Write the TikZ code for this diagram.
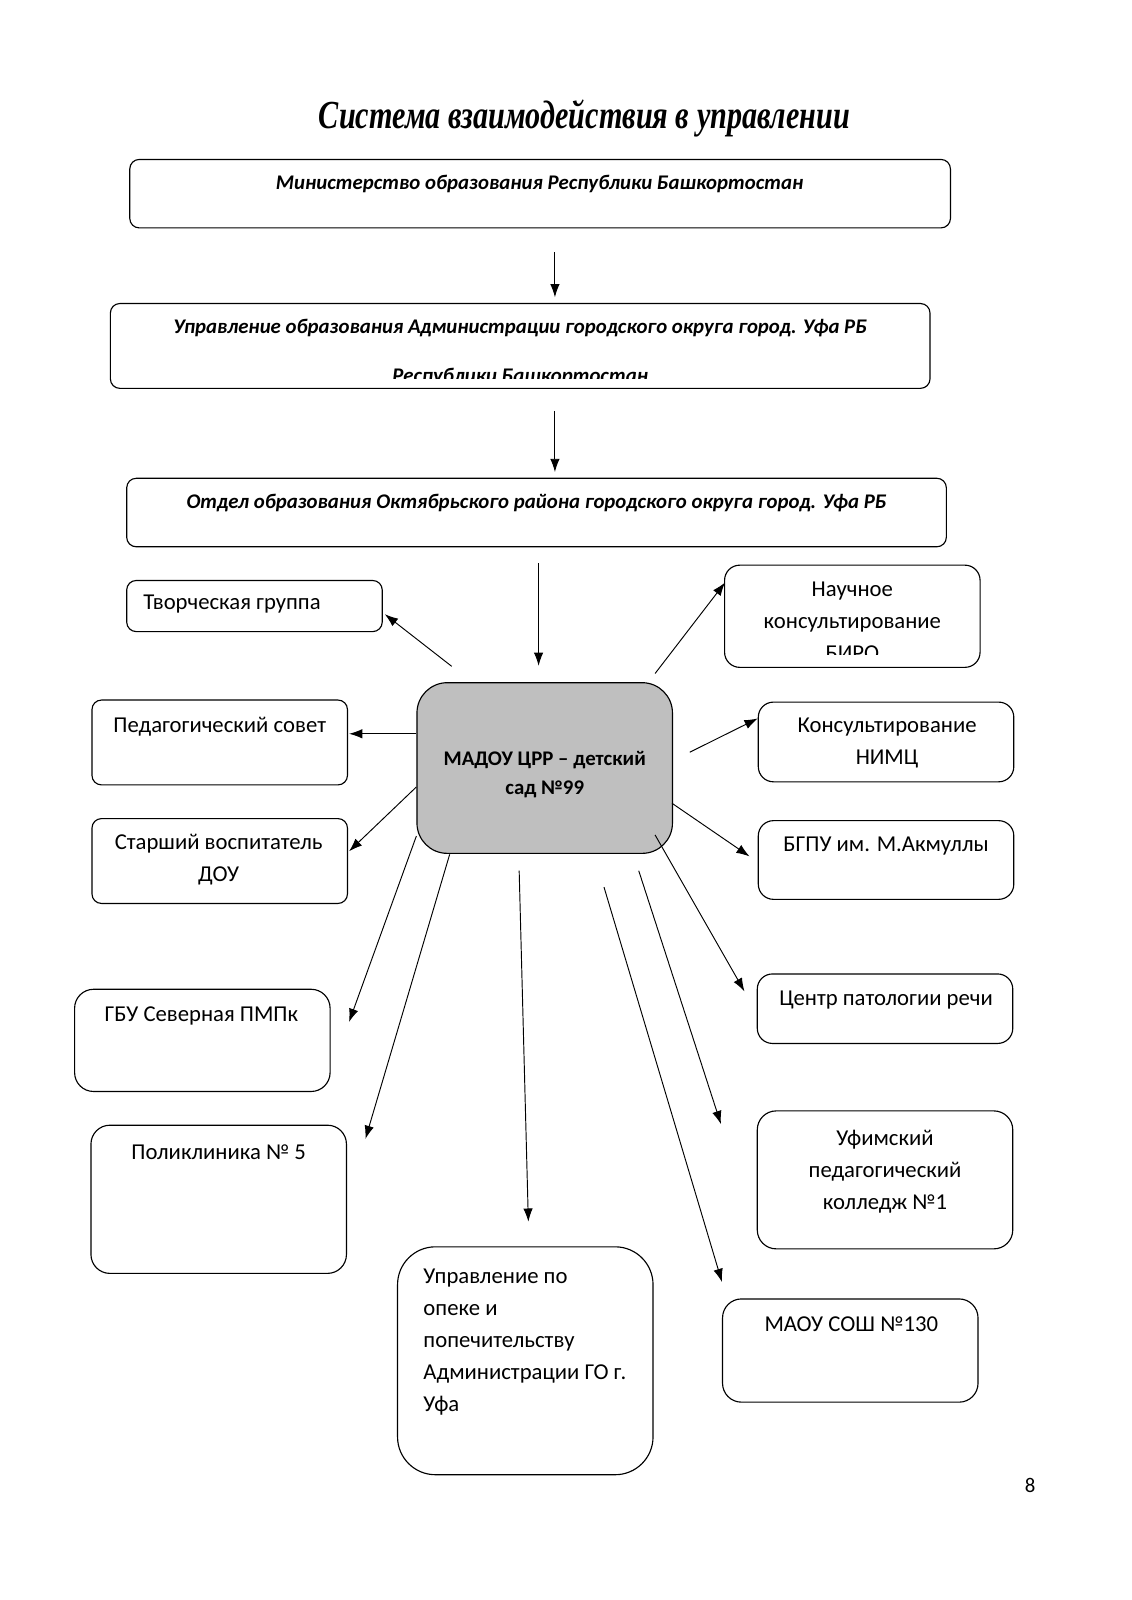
\documentclass[tikz,border=0pt]{standalone}
\usepackage{fontspec}
\setmainfont{Carlito}
\newfontfamily\titlefont[FakeStretch=0.76]{Liberation Serif}
\usetikzlibrary{arrows.meta,calc,fit,positioning}

\tikzset{
  box/.style={draw,line width=0.6pt,rounded corners=5pt,inner sep=0pt},
  boxtext/.style={inner sep=0pt,align=center,font=\fontsize{12}{17}\selectfont},
  toptext/.style={inner sep=0pt,font=\fontsize{11}{13}\selectfont\bfseries\itshape},
  link/.style={-{Latex[length=7pt,width=5pt]},line width=0.5pt},
}

\begin{document}
\begin{tikzpicture}[x=0.018976cm,y=-0.018976cm]
  \fill[white] (0,0) rectangle (1106.7,1565.6);
  \useasboundingbox (0,0) rectangle (1106.7,1565.6);

  \node[font=\titlefont\bfseries\itshape\fontsize{21}{25}\selectfont,anchor=mid] (title) at (572,121) {Система взаимодействия в управлении};

  % upper levels
  \node[box,fit={(127,156) (930,223)}] (minobr) {};
  \node[toptext,anchor=mid] (minobr-t) at (528,181) {Министерство образования Республики Башкортостан};

  \node[box,fit={(108,297) (910,380)}] (uprobr) {};
  \node[toptext,anchor=mid] (uprobr-t) at (509,322) {Управление образования Администрации городского округа город. Уфа РБ};
  \begin{scope}
    \clip (108,297) rectangle (910,370);
    \node[toptext,anchor=mid] (uprobr-t2) at (509,370) {Республики Башкортостан};
  \end{scope}

  \node[box,fit={(124,468) (926,535)}] (otdel) {};
  \node[toptext,anchor=mid] (otdel-t) at (525,493) {Отдел образования Октябрьского района городского округа город. Уфа РБ};

  % the kindergarten
  \node[box,rounded corners=16pt,fill=black!25,fit={(408,668) (658,835)}] (madou) {};
  \node[boxtext,font=\fontsize{11}{15}\selectfont\bfseries,anchor=north] (madou-t) at (533,735) {МАДОУ ЦРР -- детский\\сад №99};

  % partners, left
  \node[box,fit={(124,568) (374,618)}] (tvorch) {};
  \node[boxtext,anchor=mid west] (tvorch-t) at (140,592) {Творческая группа};

  \node[box,fit={(90,685) (340,768)}] (pedsov) {};
  \node[boxtext,anchor=mid] (pedsov-t) at (215,712) {Педагогический совет};

  \node[box,fit={(90,801) (340,884)}] (starsh) {};
  \node[boxtext,anchor=north] (starsh-t) at (214,816) {Старший воспитатель\\ДОУ};

  \node[box,rounded corners=10pt,fit={(73,968) (323,1068)}] (gbu) {};
  \node[boxtext,anchor=mid] (gbu-t) at (197,995) {ГБУ Северная ПМПк};

  \node[box,rounded corners=10pt,fit={(89,1101) (339,1246)}] (poli) {};
  \node[boxtext,anchor=mid] (poli-t) at (214,1130) {Поликлиника № 5};

  \node[box,rounded corners=20pt,fit={(389,1220) (639,1443)}] (opeka) {};
  \node[boxtext,align=left,anchor=north west] (opeka-t) at (414,1241) {Управление по\\опеке и\\попечительству\\Администрации ГО г.\\Уфа};

  % partners, right
  \node[box,rounded corners=8pt,fit={(709,553) (959,653)}] (nauch) {};
  \begin{scope}
    \clip (709,553) rectangle (959,640);
    \node[boxtext,anchor=north] (nauch-t) at (834,569) {Научное\\консультирование\\БИРО};
  \end{scope}

  \node[box,rounded corners=8pt,fit={(742,687) (992,765)}] (nimc) {};
  \node[boxtext,anchor=north] (nimc-t) at (868,702) {Консультирование\\НИМЦ};

  \node[box,rounded corners=8pt,fit={(742,803) (992,880)}] (bgpu) {};
  \node[boxtext,anchor=mid] (bgpu-t) at (867,829) {БГПУ им. М.Акмуллы};

  \node[box,rounded corners=8pt,fit={(741,953) (991,1021)}] (centr) {};
  \node[boxtext,anchor=mid] (centr-t) at (867,979) {Центр патологии речи};

  \node[box,rounded corners=10pt,fit={(741,1087) (991,1222)}] (kolledzh) {};
  \node[boxtext,anchor=north] (kolledzh-t) at (866,1105) {Уфимский\\педагогический\\колледж №1};

  \node[box,rounded corners=10pt,fit={(707,1271) (957,1372)}] (maou) {};
  \node[boxtext,anchor=mid] (maou-t) at (833,1298) {МАОУ СОШ №130};

  \node[font=\fontsize{11}{13}\selectfont,anchor=mid] (page) at (1008,1456) {8};

  % free ends of the links
  \coordinate (s-uprobr) at (543,247);
  \coordinate (s-otdel) at (543,402);
  \coordinate (s-madou) at (527,551);
  \coordinate (s-tvorch) at (442,652);
  \coordinate (s-nauch) at (641,659);
  \coordinate (s-nimc) at (675,736);
  \coordinate (s-centr) at (641,817);
  \coordinate (s-kolledzh) at (625,852);
  \coordinate (s-maou) at (591,868);
  \coordinate (s-opeka) at (508,852);
  \coordinate (s-poli) at (440,836);

  % links
  \draw[link,shorten >=3pt] (s-uprobr) -- (s-uprobr |- uprobr.north);
  \draw[link,shorten >=3pt] (s-otdel) -- (s-otdel |- otdel.north);
  \draw[link,shorten >=8.6pt] (s-madou) -- (s-madou |- madou.north);
  \draw[link] (s-tvorch) -- ($(tvorch.east)+(2,8)$);
  \draw[link] (s-nauch) -- ($(nauch.west)+(1,-33)$);
  \draw[link] ($(madou.west)+(0,-33.5)$) -- ($(pedsov.east)+(1,-8.5)$);
  \draw[link] (s-nimc) -- ($(nimc.west)+(0,-23)$);
  \draw[link] ($(madou.west)+(0,18.5)$) -- ($(starsh.east)+(1,-9.5)$);
  \draw[link] ($(madou.east)+(-1,34.5)$) -- ($(bgpu.west)+(-8,-3.5)$);
  \draw[link] (s-centr) -- ($(centr.west)+(-12,-17)$);
  \draw[link] (s-kolledzh) -- ($(kolledzh.west)+(-35,-54.5)$);
  \draw[link] (s-maou) -- ($(maou.north west)+(0,-16)$);
  \draw[link] (s-opeka) -- ($(opeka.north)+(3,-24)$);
  \draw[link] (s-poli) -- ($(poli.north east)+(18,14)$);
  \draw[link] ($(madou.west)+(0,66.5)$) -- ($(gbu.east)+(18,-18)$);
\end{tikzpicture}
\end{document}
